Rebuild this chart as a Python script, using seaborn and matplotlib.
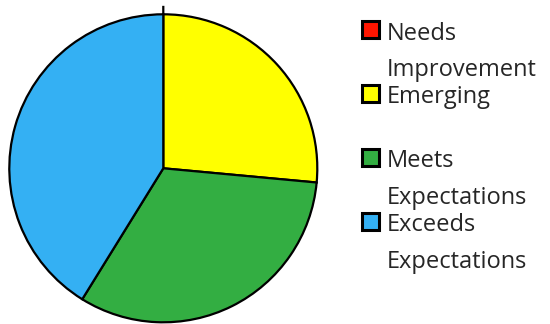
import matplotlib
matplotlib.use("Agg")
import matplotlib.pyplot as plt
import seaborn as sns

# Rating counts per category
categories = ["Needs\nImprovement", "Emerging\n ", "Meets\nExpectations", "Exceeds\nExpectations"]
counts = [0, 9, 11, 14]
colors = ["#FF1500", "#FFFF00", "#33AE42", "#34B0F3"]

sns.set_theme(style="white")
plt.rcParams["font.family"] = ["Open Sans", "DejaVu Sans"]

fig = plt.figure(figsize=(5.5, 3.24), dpi=100)
W, H = 550, 324
cx, cy, r = 163.3, 168.3, 154
ax = fig.add_axes([(cx - r) / W, (H - cy - r) / H, 2 * r / W, 2 * r / H])

wedges, _ = ax.pie(
    counts,
    colors=colors,
    startangle=90,
    counterclock=False,
    explode=[0.055, 0, 0, 0],
    wedgeprops=dict(edgecolor="black", linewidth=1.6),
)
for w in wedges:
    w.set_clip_on(False)
ax.set_xlim(-1, 1)
ax.set_ylim(-1, 1)
ax.set_aspect("equal")
ax.axis("off")

leg = fig.legend(
    wedges,
    categories,
    loc="upper left",
    bbox_to_anchor=(362 / W, 1 - 21.5 / H),
    frameon=False,
    fontsize=17,
    handlelength=0.74,
    handleheight=0.72,
    handletextpad=0.3,
    labelspacing=0.12,
    borderpad=0,
    borderaxespad=0,
)
for t in leg.get_texts():
    t.set_linespacing(1.72)
for h in leg.legend_handles:
    h.set_linewidth(2.2)
    h.set_edgecolor("black")
# put each marker beside the first line of its label
for row in leg._legend_handle_box.get_children()[0].get_children():
    row.align = "top"

fig.savefig("out.png", dpi=100)
